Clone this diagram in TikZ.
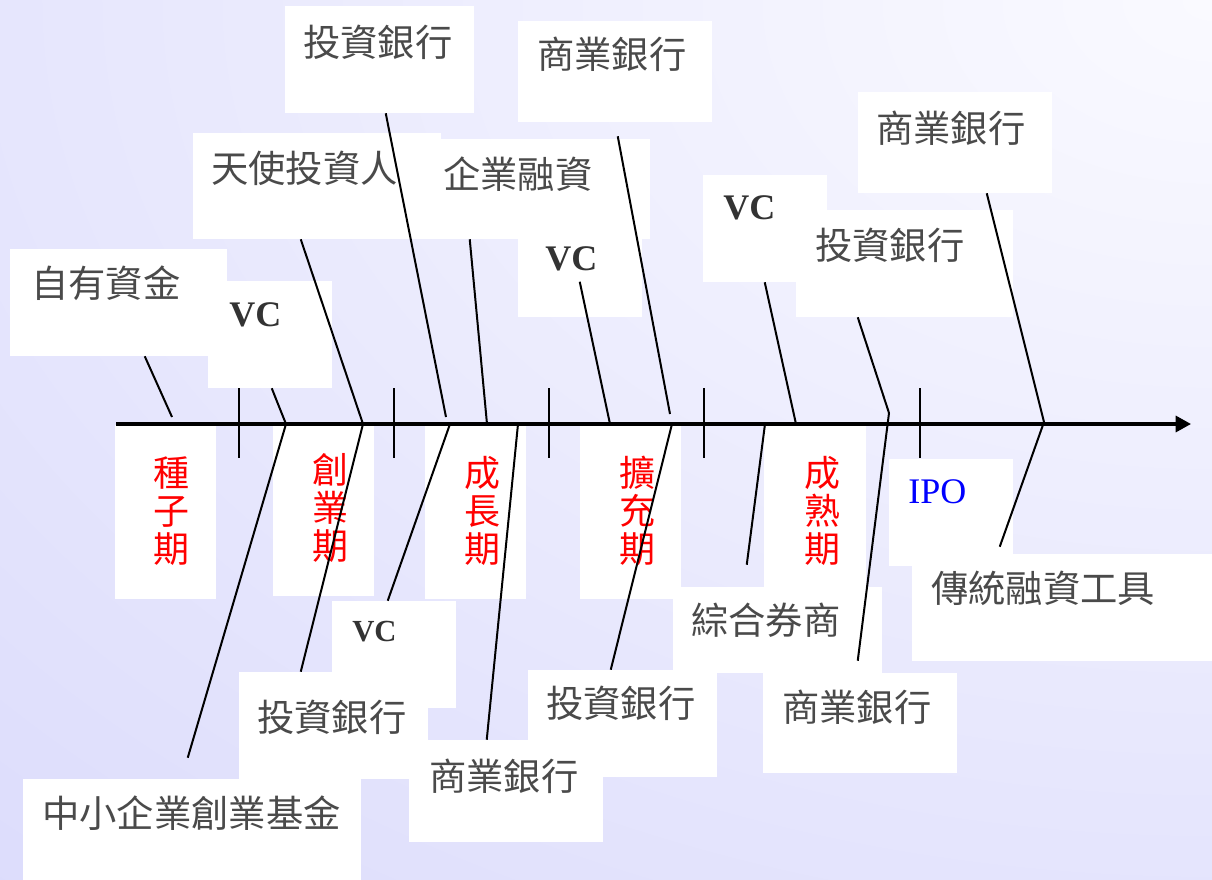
\documentclass[tikz,border=0pt]{standalone}
\usepackage{fontspec}
\newfontfamily\cjk{Noto Sans CJK TC}
\newfontfamily\lat{Liberation Serif}
\usetikzlibrary{arrows.meta,fit,calc}
\definecolor{bgin}{HTML}{FAFAFF}
\definecolor{bgout}{HTML}{CDCDFA}
\definecolor{txtgray}{HTML}{4A4A4A}
\definecolor{vcgray}{HTML}{333333}
\pgfdeclareradialshading{bgrad}{\pgfpoint{0bp}{0bp}}{color(0bp)=(bgin); color(25bp)=(bgout); color(50bp)=(bgout)}
\tikzset{
  box/.style={fill=white, draw=none, inner sep=0pt, rectangle},
  txt/.style={font=\cjk\fontsize{28pt}{34pt}\selectfont, text=txtgray, anchor=west, inner sep=0pt},
  vc/.style={font=\lat\bfseries\fontsize{27pt}{32pt}\selectfont, text=vcgray, anchor=west, inner sep=0pt},
  vcsmall/.style={font=\lat\bfseries\fontsize{23pt}{27pt}\selectfont, text=vcgray, anchor=west, inner sep=0pt},
  ipo/.style={font=\lat\fontsize{27pt}{32pt}\selectfont, text=blue, anchor=west, inner sep=0pt},
  stage/.style={font=\cjk\fontsize{27pt}{28.5pt}\selectfont, text=red, align=center, inner sep=0pt},
  conn/.style={line width=1.5pt, draw=black},
  tick/.style={line width=1.5pt, draw=black},
  axis/.style={line width=2.4pt, draw=black, -{Triangle[length=11.5pt,width=12pt]}}
}
\begin{document}
\begin{tikzpicture}[x=0.75pt,y=-0.75pt]
\useasboundingbox (0,0) rectangle (1212,880);
\begin{scope}
  \clip (0,0) rectangle (1212,880);
  \fill[bgout] (0,0) rectangle (1212,880);
  \shade[shading=bgrad] (1212,0) ellipse [x radius=2700, y radius=1834];
\end{scope}

% ---- top boxes ----
\node[box, fit={(10,249)(227,356)}] (tA) {};
\node[box, fit={(208,281)(332,388)}] (tB) {};
\node[box, fit={(193,133)(441,239)}] (tC) {};
\node[box, fit={(285,6)(474,113)}] (tD) {};
\node[box, fit={(433,139)(650,239)}] (tE) {};
\node[box, fit={(518,239)(642,317)}] (tF) {};
\node[box, fit={(518,21)(712,122)}] (tG) {};
\node[box, fit={(703,175)(827,282)}] (tH) {};
\node[box, fit={(796,210)(1013,317)}] (tI) {};
\node[box, fit={(858,92)(1052,193)}] (tJ) {};

% ---- stage boxes ----
\node[box, fit={(115,425)(216,599)}] (sA) {};
\node[box, fit={(273,422)(374,596)}] (sB) {};
\node[box, fit={(425,425)(526,599)}] (sC) {};
\node[box, fit={(580,425)(681,599)}] (sD) {};
\node[box, fit={(764,425)(866,599)}] (sE) {};

% ---- bottom boxes ----
\node[box, fit={(23,779)(361,880)}] (bA) {};
\node[box, fit={(239,672)(428,779)}] (bB) {};
\node[box, fit={(332,601)(456,708)}] (bC) {};
\node[box, fit={(409,740)(603,842)}] (bD) {};
\node[box, fit={(528,670)(717,777)}] (bE) {};
\node[box, fit={(673,587)(882,673)}] (bF) {};
\node[box, fit={(763,673)(957,773)}] (bG) {};
\node[box, fit={(889,459)(1013,566)}] (bH) {};
\node[box, fit={(912,554)(1212,661)}] (bI) {};

% ---- texts ----
\node[txt] (xA) at (31,283) {自有資金};
\node[vc]  (xB) at (229,315) {VC};
\node[txt] (xC) at (211,168) {天使投資人};
\node[txt] (xD) at (303,42) {投資銀行};
\node[txt] (xE) at (443,174) {企業融資};
\node[vc]  (xF) at (545,259) {VC};
\node[txt] (xG) at (537,54) {商業銀行};
\node[vc]  (xH) at (723,208) {VC};
\node[txt] (xI) at (815,245) {投資銀行};
\node[txt] (xJ) at (876,128) {商業銀行};

\node[stage] (yA) at (171,511) {種\\子\\期};
\node[stage] (yB) at (330,508) {創\\業\\期};
\node[stage] (yC) at (482,511) {成\\長\\期};
\node[stage] (yD) at (637,511) {擴\\充\\期};
\node[stage] (yE) at (822,511) {成\\熟\\期};

\node[txt] (zA) at (42,813) {中小企業創業基金};
\node[txt] (zB) at (257,717) {投資銀行};
\node[vcsmall] (zC) at (352,632) {VC};
\node[txt] (zD) at (429,776) {商業銀行};
\node[txt] (zE) at (546,703) {投資銀行};
\node[txt] (zF) at (691,620) {綜合券商};
\node[txt] (zG) at (782,707) {商業銀行};
\node[ipo] (zH) at (908,492) {IPO};
\node[txt] (zI) at (931,588) {傳統融資工具};

% ---- axis points ----
\coordinate (a1) at (172,417);
\coordinate (a2) at (286,424);
\coordinate (a3) at (363,424);
\coordinate (a4) at (446,417);
\coordinate (a4b) at (450,424);
\coordinate (a5) at (487,424);
\coordinate (a5b) at (518,424);
\coordinate (a6) at (610,424);
\coordinate (a7) at (670,414);
\coordinate (a7b) at (672,424);
\coordinate (a8) at (796,424);
\coordinate (a8b) at (765,424);
\coordinate (a9) at (889,413);
\coordinate (a10) at (1044,422);
\coordinate (axs) at (116,424);
\coordinate (axe) at (1191,424);

% ---- axis and ticks ----
\draw[axis] (axs) -- (axe);
\foreach \t/\x in {t1/239,t2/394,t3/549,t4/704,t5/920}{
  \coordinate (\t a) at (\x,388);
  \coordinate (\t b) at (\x,458);
  \draw[tick] (\t a) -- (\t b);
}

% ---- top connectors ----
\draw[conn] ($(tA.south west)+(135,0)$) -- (a1);
\draw[conn] ($(tB.south west)+(64,0)$) -- (a2);
\draw[conn] ($(tC.south west)+(108,0)$) -- (a3);
\draw[conn] ($(tD.south west)+(101,0)$) -- (a4);
\draw[conn] ($(tE.south west)+(37,0)$) -- (a5);
\draw[conn] ($(tF.north west)+(62,43)$) -- (a6);
\draw[conn] ($(tG.south west)+(100,14)$) -- (a7);
\draw[conn] ($(tH.south west)+(62,0)$) -- (a8);
\draw[conn] ($(tI.south west)+(62,0)$) -- (a9);
\draw[conn] ($(tJ.south west)+(129,0)$) -- (a10);

% ---- bottom connectors ----
\draw[conn] (a2) -- ($(bA.north west)+(165,-21)$);
\draw[conn] (a3) -- ($(bB.north west)+(62,0)$);
\draw[conn] (a4b) -- ($(bC.north west)+(56,0)$);
\draw[conn] (a5b) -- ($(bD.north west)+(78,0)$);
\draw[conn] (a7b) -- ($(bE.north west)+(83,0)$);
\draw[conn] (a8b) -- ($(bF.north west)+(74,-22)$);
\draw[conn] (a9) -- ($(bG.north west)+(95,-12)$);
\draw[conn] (a10) -- ($(bI.north west)+(88,-7)$);
\end{tikzpicture}
\end{document}
